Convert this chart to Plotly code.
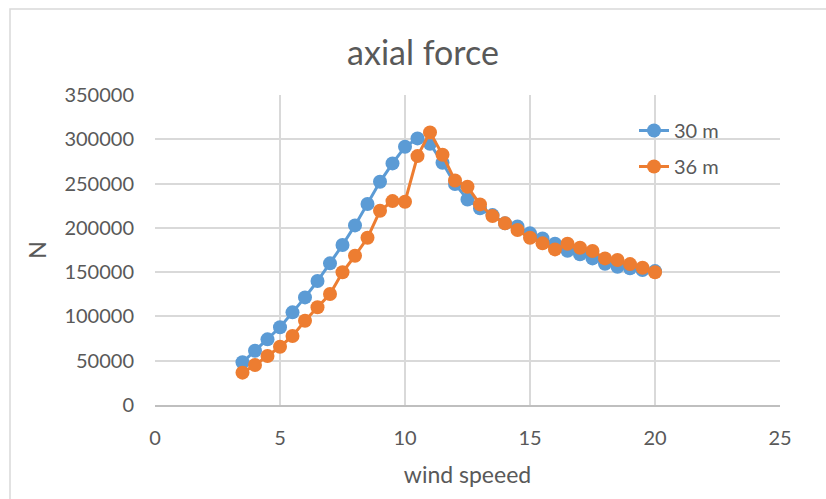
import plotly.graph_objects as go

# wind speed (m/s)
wind_speed = [3.5, 4, 4.5, 5, 5.5, 6, 6.5, 7, 7.5, 8, 8.5, 9, 9.5, 10, 10.5,
              11, 11.5, 12, 12.5, 13, 13.5, 14, 14.5, 15, 15.5, 16, 16.5, 17,
              17.5, 18, 18.5, 19, 19.5, 20]

# axial force (N) for the two heights
force_30m = [48200, 61300, 74100, 87700, 104600, 121500, 140000, 159900,
             180600, 202800, 226900, 252000, 272800, 291500, 301000, 295000,
             273500, 249500, 232000, 222000, 214400, 205100, 201500, 193800,
             188000, 182000, 174200, 170100, 165500, 159500, 156100, 154300,
             152400, 151200]
force_36m = [36500, 45100, 55300, 65800, 77900, 95200, 110300, 125300,
             149800, 168500, 188800, 219300, 230200, 229500, 281000, 307800,
             282500, 253400, 246400, 226500, 213300, 205100, 197500, 188800,
             182500, 175700, 182000, 177500, 173800, 165500, 163700, 159100,
             155000, 149800]

series_names = ["30 m", "36 m"]
series_colors = ["#5B9BD5", "#ED7D31"]

FONT = "Lato"
TEXT = "#595959"
GRID = "#D9D9D9"

fig = go.Figure()
for name, ys, color in zip(series_names, [force_30m, force_36m], series_colors):
    fig.add_trace(go.Scatter(
        x=wind_speed, y=ys, name=name, mode="lines+markers",
        legendgroup=name,
        line=dict(color=color, width=3),
        marker=dict(color=color, size=14),
    ))

# plot-area geometry in pixels
L, R, T, B = 155, 46, 95, 94
W, H = 826, 499
pw, ph = W - L - R, H - T - B

fig.update_layout(
    width=W, height=H,
    margin=dict(l=L, r=R, t=T, b=B),
    paper_bgcolor="white", plot_bgcolor="white",
    font=dict(family=FONT, color=TEXT, size=18),
    title=dict(text="axial force", x=423 / W, xanchor="center",
               y=1 - 53 / H, yanchor="middle",
               font=dict(family=FONT, size=34, color=TEXT)),
    showlegend=True,
    legend=dict(x=(634 - L) / pw, y=(405 - 111) / ph, xanchor="left", yanchor="top",
                bgcolor="rgba(0,0,0,0)", font=dict(size=20, color=TEXT),
                tracegroupgap=7, itemwidth=30),
    xaxis=dict(range=[0, 25], dtick=5, tick0=0, showgrid=True, gridcolor=GRID,
               gridwidth=1.5, zeroline=False, showline=True, linecolor="#BFBFBF",
               linewidth=1.5, ticks="", ticklabelstandoff=14,
               tickfont=dict(size=20, color=TEXT),
               title=dict(text="wind speeed", font=dict(size=23, color=TEXT), standoff=19),
               mirror=False),
    yaxis=dict(range=[0, 350000], dtick=50000, tick0=0, showgrid=True, gridcolor=GRID,
               gridwidth=1.5, zeroline=False, showline=False, ticks="",
               ticklabelstandoff=20, tickformat="d",
               tickfont=dict(size=20, color=TEXT),
               title=dict(text="N", font=dict(size=23, color=TEXT), standoff=11)),
)

# outer chart border (left and top edges visible)
fig.add_shape(type="rect", xref="paper", yref="paper",
              x0=(10 - L) / pw, x1=(W + 20 - L) / pw,
              y0=(H - B - (H + 20)) / ph, y1=(H - B - 9) / ph,
              line=dict(color="#D9D9D9", width=1.5), fillcolor="rgba(0,0,0,0)",
              layer="below")

fig.write_html("out.html")
